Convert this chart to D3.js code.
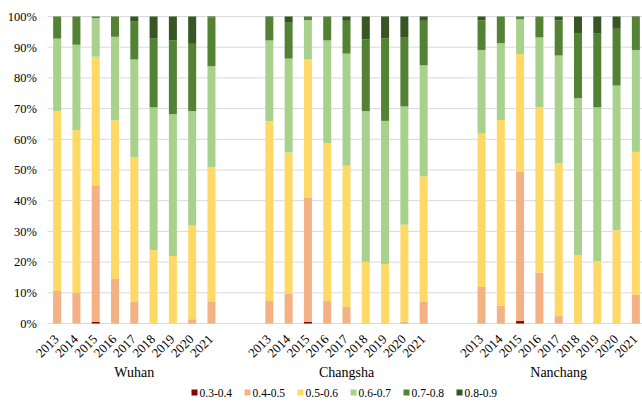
<!DOCTYPE html>
<html>
<head>
<meta charset="utf-8">
<script src="https://cdn.jsdelivr.net/npm/d3@7"></script>
<style>
  body { margin: 0; background: #fff; }
  text { font-family: "Liberation Serif", "Times New Roman", serif; fill: #000; }
</style>
</head>
<body>
<svg id="chart"></svg>
<script>
const categories = ["0.3-0.4", "0.4-0.5", "0.5-0.6", "0.6-0.7", "0.7-0.8", "0.8-0.9"];
const colors = ["#8b0000", "#f4b183", "#ffd966", "#a9d18e", "#548235", "#375623"];
const cities = ["Wuhan", "Changsha", "Nanchang"];
const years = ["2013", "2014", "2015", "2016", "2017", "2018", "2019", "2020", "2021"];
const yTicks = [0, 0.1, 0.2, 0.3, 0.4, 0.5, 0.6, 0.7, 0.8, 0.9, 1];

// share (%) of each class per year, order = categories
const wuhan = [
  [0, 10.6, 58.6, 23.6, 7.2, 0],
  [0, 10.0, 53.0, 27.8, 9.2, 0],
  [0.5, 44.5, 41.9, 12.6, 0.5, 0],
  [0, 14.5, 51.7, 27.2, 6.6, 0],
  [0, 7.0, 47.2, 31.8, 12.5, 1.5],
  [0, 0, 23.9, 46.5, 22.4, 7.2],
  [0, 0, 22.0, 46.2, 24.1, 7.7],
  [0, 1.4, 30.5, 37.3, 21.9, 8.9],
  [0, 7.0, 44.0, 32.8, 15.9, 0.3]
];
const changsha = [
  [0, 7.3, 58.6, 26.3, 7.4, 0.4],
  [0, 9.8, 45.9, 30.6, 11.9, 1.8],
  [0.5, 40.4, 45.1, 12.8, 1.2, 0],
  [0, 7.3, 51.4, 33.5, 7.8, 0],
  [0, 5.4, 46.0, 36.5, 10.7, 1.4],
  [0, 0, 20.1, 49.1, 23.4, 7.4],
  [0, 0, 19.4, 46.6, 26.9, 7.1],
  [0, 0.6, 31.6, 38.5, 22.6, 6.7],
  [0, 7.0, 41.0, 36.1, 14.5, 1.4]
];
const nanchang = [
  [0, 11.9, 50.0, 27.2, 9.7, 1.2],
  [0, 5.8, 60.5, 25.0, 8.7, 0],
  [0.8, 48.6, 38.4, 11.3, 0.9, 0],
  [0, 16.6, 53.8, 22.8, 6.8, 0],
  [0, 2.4, 49.8, 35.1, 11.5, 1.2],
  [0, 0, 22.3, 51.1, 21.2, 5.4],
  [0, 0, 20.3, 50.1, 24.2, 5.4],
  [0, 0, 30.4, 47.1, 18.5, 4.0],
  [0, 9.4, 46.5, 33.2, 10.5, 0.4]
];
const cityValues = [wuhan, changsha, nanchang];

const width = 642, height = 401;
const plotLeft = 47.5, plotRight = 645.5, plotTop = 16.5, plotBottom = 323.5;

const svg = d3.select("#chart").attr("width", width).attr("height", height);

// rows and slot keys (two empty slots between cities)
const rows = [];
const slots = [];
cities.forEach((c, ci) => {
  if (ci > 0) slots.push(`gap${ci}a`, `gap${ci}b`);
  years.forEach((yr, yi) => {
    const key = `${c}-${yr}`;
    slots.push(key);
    const row = { key, city: c, year: yr };
    categories.forEach((cat, k) => {
      row[cat] = cityValues[ci][yi][k];
    });
    rows.push(row);
  });
});

const x = d3.scaleBand().domain(slots).range([plotLeft, plotRight]).paddingInner(0.585).paddingOuter(0.2925);
const y = d3.scaleLinear().domain([0, 1]).range([plotBottom, plotTop]);

// gridlines
svg.append("g")
  .selectAll("line")
  .data(yTicks)
  .join("line")
  .attr("x1", plotLeft).attr("x2", width)
  .attr("y1", d => y(d)).attr("y2", d => y(d))
  .attr("stroke", "#d9d9d9").attr("stroke-width", 1);

// y labels
svg.append("g")
  .selectAll("text")
  .data(yTicks)
  .join("text")
  .attr("x", 37)
  .attr("y", d => y(d))
  .attr("dy", "0.35em")
  .attr("text-anchor", "end")
  .style("font-size", "12.5px")
  .text(d => d3.format(".0%")(d));

// stacked bars (normalised to 100%)
const stack = d3.stack().keys(categories).offset(d3.stackOffsetExpand);
const series = stack(rows);

svg.append("g")
  .selectAll("g")
  .data(series)
  .join("g")
  .attr("fill", (d, i) => colors[i])
  .selectAll("rect")
  .data(d => d)
  .join("rect")
  .attr("x", d => x(d.data.key))
  .attr("width", x.bandwidth())
  .attr("y", d => y(d[1]))
  .attr("height", d => Math.max(0, y(d[0]) - y(d[1])));

// year labels
svg.append("g")
  .selectAll("text")
  .data(rows)
  .join("text")
  .attr("transform", d => `translate(${x(d.key) + x.bandwidth() / 2 - 4},${plotBottom + 10}) rotate(-45)`)
  .attr("text-anchor", "end")
  .attr("dy", "0.7em")
  .style("font-size", "13px")
  .text(d => d.year);

// city labels
svg.append("g")
  .selectAll("text")
  .data(cities)
  .join("text")
  .attr("x", c => (x(`${c}-2013`) + x(`${c}-2021`) + x.bandwidth()) / 2)
  .attr("y", 372)
  .attr("dy", "0.35em")
  .attr("text-anchor", "middle")
  .style("font-size", "14px")
  .text(c => c);

// legend
const legendX = d3.scalePoint().domain(categories).range([191.5, 456.5]);
const legend = svg.append("g")
  .selectAll("g")
  .data(categories)
  .join("g")
  .attr("transform", d => `translate(${legendX(d)},393)`);

legend.append("rect")
  .attr("x", 0).attr("y", -3.5)
  .attr("width", 6).attr("height", 6)
  .attr("fill", (d, i) => colors[i]);

legend.append("text")
  .attr("x", 8)
  .attr("dy", "0.35em")
  .style("font-size", "11.5px")
  .text(d => d);
</script>
</body>
</html>
